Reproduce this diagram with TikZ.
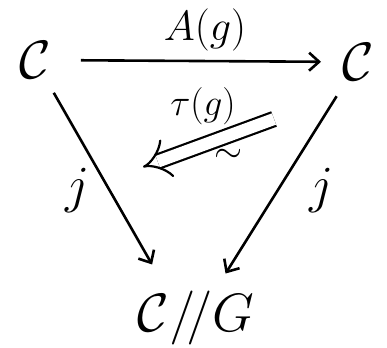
\RequirePackage{fix-cm}
\documentclass[tikz,border=0pt]{standalone}
\usetikzlibrary{arrows.meta}
\begin{document}
\begin{tikzpicture}[
  x=1pt, y=-1pt,
  obj/.style={inner sep=2pt, font=\fontsize{54}{54}\selectfont},
  lbl/.style={inner sep=1pt, font=\Huge},
  map/.style={-{Straight Barb[length=10pt,width=18pt]}, line width=2.6pt},
  twocell/.style={-{Implies}, double, double distance=12pt, line width=2.2pt},
]
\useasboundingbox (0,0) rectangle (387,347);

% The three objects
\node[obj] (src) at (35,60) {$\mathcal{C}$};
\node[obj] (tgt) at (358,62) {$\mathcal{C}$};
\node[obj] (quot) at (196,318) {$\mathcal{C}/\!/G$};

% 1-cells
\draw[map, shorten <=28pt, shorten >=19pt] (src) -- (tgt);
\draw[map, shorten <=14pt, shorten >=28pt] (src) -- ([xshift=-30pt]quot.north);
\draw[map, shorten <=16pt, shorten >=18pt] (tgt) -- ([xshift=20pt]quot.north);

% Labels
\node[lbl] (Ag) at (205,30) {\scalebox{1.7}{$A(g)$}};
\node[lbl] (jl) at (78,190) {\scalebox{2.1}{$j$}};
\node[lbl] (jr) at (322,190) {\scalebox{2.1}{$j$}};

% The 2-cell
\coordinate (tau-s) at (274,119);
\coordinate (tau-e) at (143,167);
\draw[twocell] (tau-s) -- (tau-e);
\node[lbl] (tau) at (203,106) {\scalebox{1.5}{$\tau(g)$}};
\node[lbl] (iso) at (229,156) {\scalebox{1.45}{$\sim$}};
\end{tikzpicture}
\end{document}
